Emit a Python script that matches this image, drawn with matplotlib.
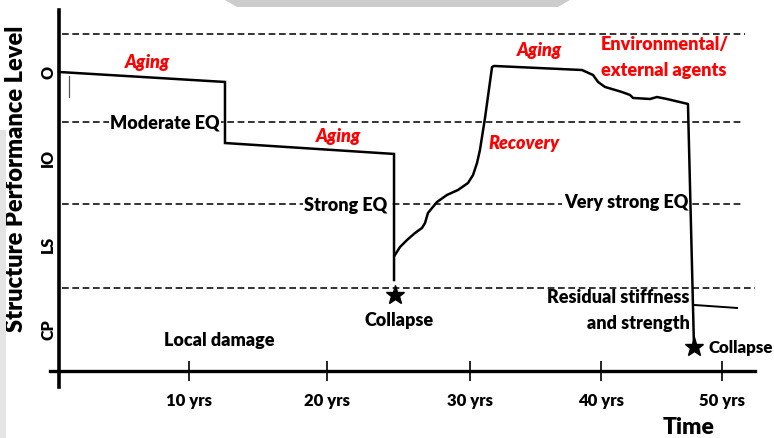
import matplotlib
matplotlib.use("Agg")
import matplotlib.pyplot as plt
from matplotlib.patches import Polygon, Rectangle

# ---------------- data ----------------
# performance level scale: CP=0, LS=1, IO=2, O=3
level_ticks = [0, 1, 2, 3]
level_labels = ["CP", "LS", "IO", "O"]

year_ticks = [9.77, 20.15, 30.9, 40.75, 49.85]
year_labels = ["10 yrs", "20 yrs", "30 yrs", "40 yrs", "50 yrs"]

# first life cycle: aging, moderate EQ, aging, strong EQ
years_main = [0.0, 12.48, 12.48, 25.19, 25.19]
perf_main = [3.0, 2.884, 2.174, 2.047, 0.581]

# recovery, aging, environmental agents, very strong EQ
years_rec = [25.26, 25.64, 26.17, 26.77, 27.29, 27.52, 27.74, 28.05, 28.42,
             29.17, 30.0, 30.75, 31.13, 31.43, 31.65, 32.03, 32.56, 32.71,
             39.32, 40.15, 40.53, 41.05, 42.33, 42.93, 43.16, 44.44, 44.96,
             45.71, 47.29, 47.74]
perf_rec = [0.872, 0.965, 1.047, 1.128, 1.186, 1.244, 1.36, 1.419, 1.488,
            1.57, 1.628, 1.709, 1.802, 1.942, 2.093, 2.465, 3.058, 3.07,
            3.023, 2.965, 2.884, 2.826, 2.767, 2.733, 2.698, 2.686, 2.709,
            2.686, 2.628, -0.174]

# residual stiffness branch
years_res = [47.74, 50.98]
perf_res = [0.291, 0.256]

# collapse points
years_collapse = [25.26, 47.74]
perf_collapse = [0.407, -0.198]

# dashed threshold levels
threshold_levels = [3.44, 2.42, 1.47, 0.49]
threshold_ends = [51.6, 51.5, 51.3, 52.3]

# ---------------- figure ----------------
plt.rcParams['font.family'] = ['Lato', 'DejaVu Sans']
W = 'heavy'
fig = plt.figure(figsize=(7.74, 4.38), dpi=100)
ax = fig.add_axes([0, 0, 1, 1])
ax.set_xlim(-4.436, 53.759)
ax.set_ylim(-1.256, 3.837)
ax.patch.set_alpha(0)

# decorative shadows of the original picture
fig.patches.append(Polygon([[225 / 774, 1], [570 / 774, 1], [558 / 774, 1 - 7 / 438],
                            [237 / 774, 1 - 7 / 438]], closed=True,
                           transform=fig.transFigure, facecolor='#cccccc',
                           edgecolor='none', zorder=0))
fig.patches.append(Rectangle((0, 0), 6 / 774, 1 - 130 / 438, transform=fig.transFigure,
                             facecolor='#e4e4e4', edgecolor='none', zorder=0))

# spines as crossing axes
for s in ['top', 'right']:
    ax.spines[s].set_visible(False)
ax.spines['left'].set_position(('data', 0))
ax.spines['left'].set_bounds(-0.663, 3.721)
ax.spines['left'].set_linewidth(2.6)
ax.spines['bottom'].set_position(('data', -0.477))
ax.spines['bottom'].set_bounds(-0.68, 52.33)
ax.spines['bottom'].set_linewidth(2.4)

ax.set_xticks(year_ticks)
ax.set_xticklabels(year_labels, fontsize=12, fontweight=W)
ax.tick_params(axis='x', direction='inout', length=14, width=1.2, pad=9)
ax.set_yticks(level_ticks)
ax.set_yticklabels(level_labels, fontsize=11.5, fontweight=W, rotation=90,
                   va='center')
ax.tick_params(axis='y', length=0, pad=2)

# dashed threshold lines
for lv, xe in zip(threshold_levels, threshold_ends):
    ax.plot([0.2, xe], [lv, lv], ls=(0, (4, 2.2)), color='#111111', lw=1.2, zorder=1)

# curves
ax.plot(years_main, perf_main, color='black', lw=1.8, zorder=3, solid_joinstyle='miter')
ax.plot(years_rec, perf_rec, color='black', lw=1.8, zorder=3, solid_joinstyle='round')
ax.plot(years_res, perf_res, color='black', lw=1.4, zorder=3)
ax.plot([0.75, 0.75], [2.953, 2.709], color='#555555', lw=0.9, zorder=3)
ax.plot(years_collapse, perf_collapse, ls='none', marker='*', ms=14, color='black', zorder=4)

# labels
red = dict(color='#ff0000', fontweight=W, fontsize=13, ha='center', va='center')
ax.text(6.62, 3.116, "Aging", style='italic', **red)
ax.text(20.98, 2.244, "Aging", style='italic', **red)
ax.text(36.09, 3.244, "Aging", style='italic', **red)
ax.text(34.96, 2.163, "Recovery", style='italic', **red)
ax.text(40.75, 3.314, "Environmental/", color='#ff0000', fontweight=W, fontsize=13,
        ha='left', va='center')
ax.text(40.75, 3.023, "external agents", color='#ff0000', fontweight=W, fontsize=13,
        ha='left', va='center')

box = dict(facecolor='white', edgecolor='none', pad=1.0)
blk = dict(color='black', fontweight=W, fontsize=13, ha='center', va='center')
ax.text(7.97, 2.41, "Moderate EQ", bbox=box, zorder=2, **blk)
ax.text(21.58, 1.45, "Strong EQ", bbox=box, zorder=2, **blk)
ax.text(42.63, 1.48, "Very strong EQ", bbox=box, zorder=2, **blk)
ax.text(25.56, 0.116, "Collapse", **blk)
ax.text(12.03, -0.128, "Local damage", **blk)
ax.text(47.4, 0.372, "Residual stiffness", color='black', fontweight=W, fontsize=13,
        ha='right', va='center')
ax.text(47.4, 0.081, "and strength", color='black', fontweight=W, fontsize=13,
        ha='right', va='center')
ax.text(48.8, -0.209, "Collapse", color='black', fontweight=W, fontsize=12.2,
        ha='left', va='center')
ax.text(47.37, -1.13, "Time", color='black', fontweight=W, fontsize=16.5,
        ha='center', va='center')
ax.text(-3.25, 1.76, "Structure Performance Level", color='black', fontweight=W,
        fontsize=17, ha='center', va='center', rotation=90)

fig.savefig("out.png", dpi=100)
